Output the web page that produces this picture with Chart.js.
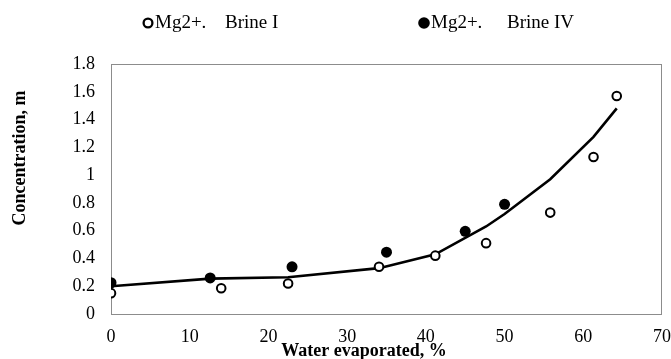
<!DOCTYPE html>
<html>
<head>
<meta charset="utf-8">
<title>Mg2+ concentration vs water evaporated</title>
<script src="https://cdn.jsdelivr.net/npm/chart.js@4/dist/chart.umd.min.js"></script>
<style>
    html, body { margin: 0; padding: 0; background: #fff; }
    canvas { display: block; }
</style>
</head>
<body>
<canvas id="brineChart" width="671" height="359"></canvas>
<script>
// ======================= Data =======================
const brineIx = [0, 14.0, 22.5, 34.05, 41.2, 47.65, 55.8, 61.3, 64.25];
const brineIy = [0.15, 0.185, 0.22, 0.34, 0.42, 0.51, 0.73, 1.13, 1.57];

const brineIVx = [0, 12.6, 23.0, 35.0, 45.0, 50.0];
const brineIVy = [0.225, 0.26, 0.34, 0.445, 0.595, 0.79];

// fitted trend line
const trendX = [0, 12.6, 22.5, 34.05, 41.2, 47.65, 50, 55.8, 61.3, 64.25];
const trendY = [0.2, 0.255, 0.265, 0.33, 0.43, 0.63, 0.72, 0.97, 1.275, 1.48];

const seriesNames = ["Brine I", "Brine IV"];
const ionLabel = "Mg2+.";
const xTicks = [0, 10, 20, 30, 40, 50, 60, 70];
const yTicks = [0, 0.2, 0.4, 0.6, 0.8, 1, 1.2, 1.4, 1.6, 1.8];
const xTitle = "Water evaporated, %";
const yTitle = "Concentration, m";

const FONT = '"Liberation Serif", "Times New Roman", serif';

const toPoints = (xs, ys) => xs.map((x, i) => ({ x: x, y: ys[i] }));

// ======================= Plugins =======================
// grey frame around the plot area
const frame = {
    id: "frame",
    beforeDatasetsDraw(chart) {
        const { ctx, chartArea: a } = chart;
        ctx.save();
        ctx.strokeStyle = "#8c8c8c";
        ctx.lineWidth = 1;
        ctx.strokeRect(a.left + 0.5, a.top + 0.5, a.right - a.left - 1, a.bottom - a.top);
        ctx.restore();
    }
};

// legend row at the top plus the two axis titles
const labels = {
    id: "labels",
    afterDraw(chart) {
        const ctx = chart.ctx;
        ctx.save();
        ctx.fillStyle = "#000";
        ctx.strokeStyle = "#000";
        ctx.textBaseline = "alphabetic";
        ctx.font = `19px ${FONT}`;

        const items = [
            { mx: 148, filled: false, ionX: 155, nameX: 225 },
            { mx: 424, filled: true, ionX: 431, nameX: 507 }
        ];
        items.forEach((it, i) => {
            ctx.beginPath();
            if (it.filled) {
                ctx.arc(it.mx, 23, 5.8, 0, Math.PI * 2);
                ctx.fill();
            } else {
                ctx.lineWidth = 2.3;
                ctx.arc(it.mx, 23, 4.4, 0, Math.PI * 2);
                ctx.stroke();
            }
            ctx.fillText(ionLabel, it.ionX, 28);
            ctx.fillText(seriesNames[i], it.nameX, 28);
        });

        ctx.font = `bold 18px ${FONT}`;
        ctx.textAlign = "center";
        ctx.fillText(xTitle, 364, 356);

        ctx.translate(25, 158);
        ctx.rotate(-Math.PI / 2);
        ctx.fillText(yTitle, 0, 0);
        ctx.restore();
    }
};

// ======================= Chart =======================
new Chart(document.getElementById("brineChart"), {
    type: "scatter",
    data: {
        datasets: [
            {
                label: ionLabel + " " + seriesNames[1],
                data: toPoints(brineIVx, brineIVy),
                pointStyle: "circle",
                pointRadius: 5.5,
                pointBorderWidth: 0,
                pointBackgroundColor: "#000",
                pointBorderColor: "#000"
            },
            {
                label: ionLabel + " " + seriesNames[0],
                data: toPoints(brineIx, brineIy),
                pointStyle: "circle",
                pointRadius: 4.3,
                pointBorderWidth: 2,
                pointBackgroundColor: "#fff",
                pointBorderColor: "#000"
            },
            {
                label: "trend",
                data: toPoints(trendX, trendY),
                showLine: true,
                borderColor: "#000",
                borderWidth: 2.6,
                pointRadius: 0,
                tension: 0
            }
        ]
    },
    options: {
        responsive: false,
        animation: false,
        devicePixelRatio: 1,
        layout: { padding: { top: 64, right: 9, left: 0, bottom: 0 } },
        plugins: {
            legend: { display: false },
            tooltip: { enabled: false }
        },
        scales: {
            x: {
                type: "linear",
                min: xTicks[0],
                max: xTicks[xTicks.length - 1],
                afterBuildTicks: s => { s.ticks = xTicks.map(v => ({ value: v })); },
                afterFit: s => {
                    s.height = 45;
                    // let the last label run into the margin instead of shrinking the plot
                    s.paddingLeft = 0;
                    s.paddingRight = 0;
                },
                grid: { display: false, drawTicks: false },
                border: { display: false },
                ticks: {
                    color: "#000",
                    padding: 12,
                    maxRotation: 0,
                    font: { family: FONT, size: 18 }
                }
            },
            y: {
                min: yTicks[0],
                max: yTicks[yTicks.length - 1],
                afterBuildTicks: s => { s.ticks = yTicks.map(v => ({ value: v })); },
                afterFit: s => {
                    s.width = 111;
                    s.paddingTop = 0;
                    s.paddingBottom = 0;
                },
                grid: { display: false, drawTicks: false },
                border: { display: false },
                ticks: {
                    color: "#000",
                    padding: 16,
                    font: { family: FONT, size: 18 },
                    callback: v => String(v)
                }
            }
        }
    },
    plugins: [frame, labels]
});
</script>
</body>
</html>
